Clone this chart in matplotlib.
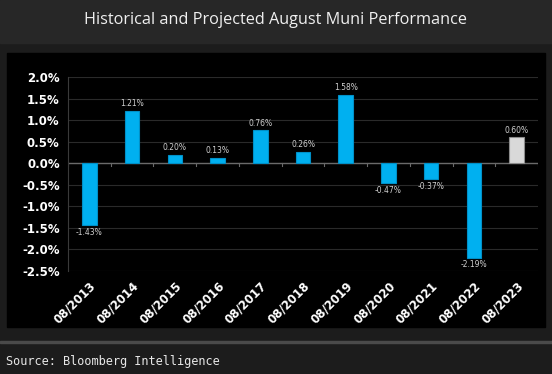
import matplotlib.pyplot as plt
from matplotlib.patches import Rectangle
from matplotlib.ticker import FuncFormatter

# August muni returns, %
months = ['08/2013', '08/2014', '08/2015', '08/2016', '08/2017', '08/2018',
          '08/2019', '08/2020', '08/2021', '08/2022', '08/2023']
returns = [-1.43, 1.21, 0.20, 0.13, 0.76, 0.26, 1.58, -0.47, -0.37, -2.19, 0.60]
projected = [False] * 10 + [True]

W, H = 552, 374
fig = plt.figure(figsize=(W / 100, H / 100), dpi=100)
fig.patch.set_facecolor('#1c1c1c')

# header band, black chart panel, separator line
fig.patches.append(Rectangle((0, 1 - 43 / H), 1, 43 / H, transform=fig.transFigure,
                             color='#272727', zorder=-10))
fig.patches.append(Rectangle((7 / W, 1 - 327 / H), 538 / W, 274 / H,
                             transform=fig.transFigure, color='#000000', zorder=-10))
fig.patches.append(Rectangle((0, 1 - 343 / H), 1, 2 / H, transform=fig.transFigure,
                             color='#4a4a4a', zorder=-10))

fig.text(0.5, 1 - 20 / H, 'Historical and Projected August Muni Performance',
         ha='center', va='center', color='#f0f0f0', fontsize=11.7, family='Open Sans')
fig.text(6 / W, 1 - 361 / H, 'Source: Bloomberg Intelligence', ha='left', va='center',
         color='#e8e8e8', fontsize=8.6, family='DejaVu Sans Mono')

ax = fig.add_axes([68 / W, 1 - 271 / H, 470 / W, 194 / H])
ax.set_facecolor('#000000')

x = range(len(months))
colors = ['#d9d9d9' if p else '#00b0f0' for p in projected]
edges = ['#8c8c8c' if p else '#0090c8' for p in projected]
bars = ax.bar(x, returns, width=0.34, color=colors, edgecolor=edges, linewidth=0.8, zorder=3)

for b, v in zip(bars, returns):
    off = 2 if v >= 0 else -2
    ax.annotate(f'{v:.2f}%', (b.get_x() + b.get_width() / 2, v), xytext=(0, off),
                textcoords='offset points', ha='center',
                va='bottom' if v >= 0 else 'top', color='#d0d0d0', fontsize=5.5)

ax.set_xlim(-0.5, len(months) - 0.5)
ax.set_ylim(-2.5, 2.0)
ax.set_yticks([2.0, 1.5, 1.0, 0.5, 0.0, -0.5, -1.0, -1.5, -2.0, -2.5])
ax.yaxis.set_major_formatter(FuncFormatter(lambda v, _: f'{v:.1f}%'))
ax.grid(axis='y', color='#2a2a2a', linewidth=0.8, zorder=0)
ax.axhline(0, color='#6a6a6a', linewidth=1, zorder=2)

ax.set_xticks(list(x))
ax.set_xticklabels(months, rotation=45, ha='right', rotation_mode='anchor')
ax.tick_params(axis='x', length=0, pad=6, colors='white', labelsize=8.5)
ax.tick_params(axis='y', length=0, pad=6, colors='white', labelsize=8.5)
for lab in ax.get_xticklabels() + ax.get_yticklabels():
    lab.set_fontweight('bold')

# small tick marks between categories on the zero line
for i in range(len(months) + 1):
    ax.plot([i - 0.5, i - 0.5], [0, -0.06], color='#6a6a6a', linewidth=0.8, zorder=2)

for s in ['top', 'right', 'bottom']:
    ax.spines[s].set_visible(False)
ax.spines['left'].set_color('#3a3a3a')

fig.savefig('out.png', dpi=100, facecolor=fig.get_facecolor())
